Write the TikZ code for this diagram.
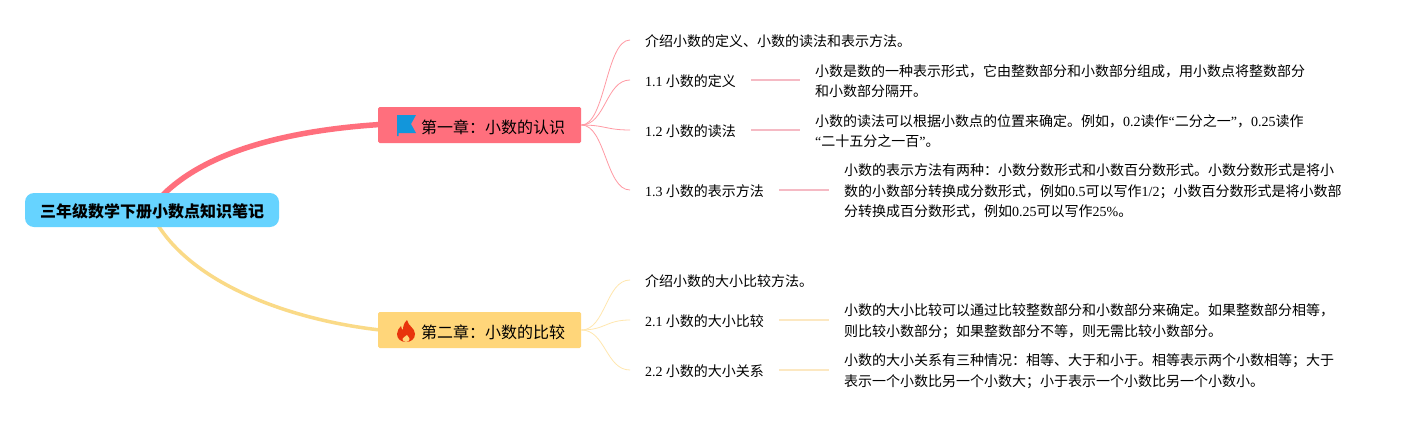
\documentclass[tikz,border=0pt]{standalone}
\usepackage{fontspec}
\setmainfont{Noto Sans CJK SC}
\newfontfamily\latfont{Liberation Serif}
\newcommand{\lat}[1]{{\latfont #1}}
\usetikzlibrary{positioning}
\definecolor{mmblue}{RGB}{102, 211, 255}
\definecolor{mmred}{RGB}{255, 111, 125}
\definecolor{mmyellow}{RGB}{255, 214, 122}
\definecolor{mmyellowline}{RGB}{250, 218, 135}
\definecolor{mmredpale}{RGB}{245, 186, 196}
\definecolor{mmyellowpale}{RGB}{252, 232, 194}
\definecolor{mmflag}{RGB}{18, 150, 219}
\definecolor{mmfire}{RGB}{232, 52, 12}
\tikzset{
  rootbox/.style={fill=mmblue, rounded corners=9pt, minimum width=254pt, minimum height=34pt, inner sep=0pt, text height=14pt, text depth=0pt, font=\fontsize{16}{20}\selectfont\bfseries},
  chbox/.style={rounded corners=1.5pt, minimum width=203pt, minimum height=36pt, inner xsep=16pt, inner ysep=0pt, anchor=west, text height=16pt, text depth=0pt, font=\fontsize{16}{20}\selectfont},
  subnode/.style={anchor=west, yshift=-1.2pt, inner xsep=15pt, inner ysep=0pt, font=\fontsize{14}{20.4}\selectfont},
  detail/.style={subnode, align=left},
}
\begin{document}
\begin{tikzpicture}[x=1pt,y=-1pt]
\useasboundingbox[fill=white] (0,0) rectangle (1404,420);
% Main branches
\coordinate (rootmid) at (150,210);
\coordinate (ch1in) at (380,124.5);
\coordinate (ch2in) at (380,330);
\draw[mmred, line width=5.5pt] (rootmid) .. controls (190,155) and (280,131) .. (ch1in);
\draw[mmyellowline, line width=3.5pt] (rootmid) .. controls (178,275) and (275,318) .. (ch2in);
% Root and chapters
\node[rootbox] (root) at (152,210) {三年级数学下册小数点知识笔记};
\node[chbox, fill=mmred] (ch1) at (378,125) {\hspace*{27pt}第一章：小数的认识};
\node[chbox, fill=mmyellow] (ch2) at (378,330) {\hspace*{27pt}第二章：小数的比较};
% Flag
\fill[mmflag] (397,115) -- (416,115) -- (411,124) -- (416,133) -- (398.5,133) -- (398.5,136) -- (397,136) -- cycle;
% Fire
\fill[mmfire] (407,320) .. controls (408,326) and (415,328) .. (415,334) .. controls (415,339) and (411,342) .. (406,342) .. controls (401,342) and (397,339) .. (397,334) .. controls (397,331) and (399,328) .. (401,326) .. controls (401,328) and (402,329) .. (403,330) .. controls (403,326) and (404,323) .. (407,320) -- cycle;
\fill[mmyellow] (407,335) .. controls (408,337) and (409.5,337.5) .. (409.5,339) .. controls (409.5,340.5) and (408,342) .. (406,342) .. controls (404,342) and (402.5,340.5) .. (402.5,339) .. controls (402.5,337.5) and (405,337) .. (407,335) -- cycle;
% Chapter one
\node[subnode] (n10) at (630,40) {介绍小数的定义、小数的读法和表示方法。};
\node[subnode] (n11) at (630,80) {\lat{1.1} 小数的定义};
\node[subnode] (n12) at (630,130) {\lat{1.2} 小数的读法};
\node[subnode] (n13) at (630,190) {\lat{1.3} 小数的表示方法};
\node[detail] (d11) at (800,80) {小数是数的一种表示形式，它由整数部分和小数部分组成，用小数点将整数部分\\和小数部分隔开。};
\node[detail] (d12) at (800,130) {小数的读法可以根据小数点的位置来确定。例如，\lat{0.2}读作\lat{“}二分之一\lat{”}，\lat{0.25}读作\\\lat{“}二十五分之一百\lat{”}。};
\node[detail] (d13) at (829,190) {小数的表示方法有两种：小数分数形式和小数百分数形式。小数分数形式是将小\\数的小数部分转换成分数形式，例如\lat{0.5}可以写作\lat{1/2}；小数百分数形式是将小数部\\分转换成百分数形式，例如\lat{0.25}可以写作\lat{25\%}。};
% Chapter two
\node[subnode] (n20) at (630,280) {介绍小数的大小比较方法。};
\node[subnode] (n21) at (630,320) {\lat{2.1} 小数的大小比较};
\node[subnode] (n22) at (630,370) {\lat{2.2} 小数的大小关系};
\node[detail] (d21) at (829,320) {小数的大小比较可以通过比较整数部分和小数部分来确定。如果整数部分相等，\\则比较小数部分；如果整数部分不等，则无需比较小数部分。};
\node[detail] (d22) at (829,370) {小数的大小关系有三种情况：相等、大于和小于。相等表示两个小数相等；大于\\表示一个小数比另一个小数大；小于表示一个小数比另一个小数小。};
% Twigs
\foreach \n in {n10,n11,n12,n13}
  \draw[mmred!70, line width=0.8pt] (ch1.east) .. controls +(24,0) and +(-24,0) .. ([yshift=1.2pt]\n.west);
\foreach \n in {n20,n21,n22}
  \draw[mmyellow!60, line width=0.8pt] (ch2.east) .. controls +(24,0) and +(-24,0) .. ([yshift=1.2pt]\n.west);
\foreach \n/\d in {n11/d11,n12/d12,n13/d13}
  \draw[mmredpale, line width=2pt] ([yshift=1.2pt]\n.east) -- ([yshift=1.2pt]\d.west);
\foreach \n/\d in {n21/d21,n22/d22}
  \draw[mmyellowpale, line width=2pt] ([yshift=1.2pt]\n.east) -- ([yshift=1.2pt]\d.west);
\end{tikzpicture}
\end{document}
